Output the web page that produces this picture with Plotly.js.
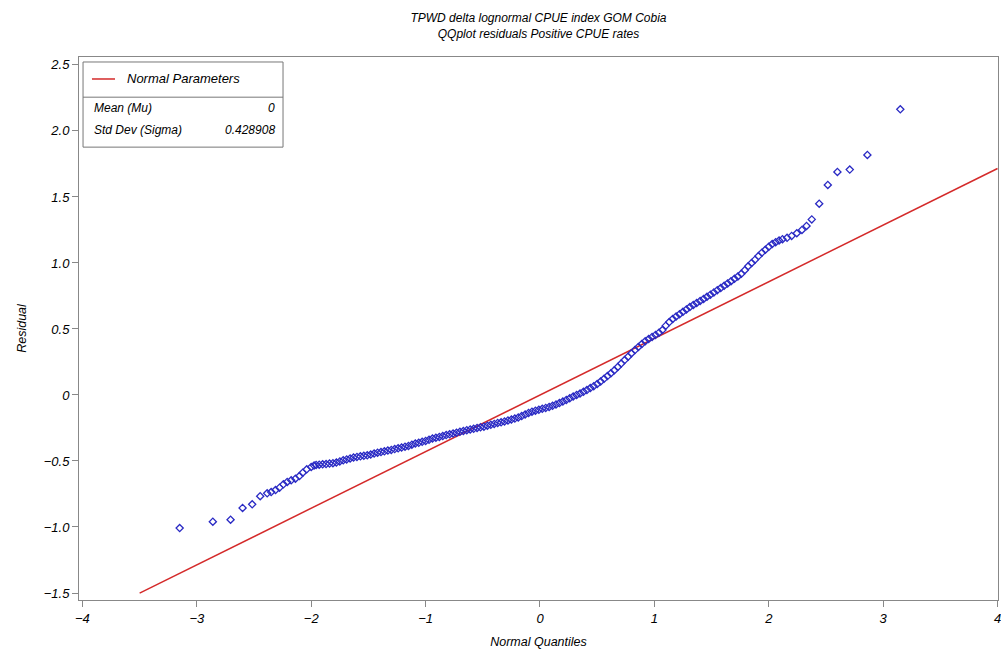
<!DOCTYPE html>
<html>
<head>
<meta charset="utf-8">
<script src="https://cdn.plot.ly/plotly-3.0.1.min.js"></script>
<style>html,body{margin:0;padding:0;background:#fff;}#chart{width:1001px;height:652px;}</style>
</head>
<body>
<div id="chart"></div>
<script>
// ---- Data ----
const titleLines = ["TPWD delta lognormal CPUE index GOM Cobia", "QQplot residuals Positive CPUE rates"];
const xTitle = "Normal Quantiles";
const yTitle = "Residual";
const xTickVals = [-4, -3, -2, -1, 0, 1, 2, 3, 4];
const xTickText = ["\u22124", "\u22123", "\u22122", "\u22121", "0", "1", "2", "3", "4"];
const yTickVals = [2.5, 2.0, 1.5, 1.0, 0.5, 0, -0.5, -1.0, -1.5];
const yTickText = ["2.5", "2.0", "1.5", "1.0", "0.5", "0", "\u22120.5", "\u22121.0", "\u22121.5"];

// Normal parameters (from the inset table)
const mu = 0;
const sigma = 0.428908;
const refLineX = [-3.5, 4];

// Residual QQ points: normal quantiles and residuals
const qx = [
 -3.15, -2.86, -2.705, -2.60, -2.516, -2.446, -2.385, -2.35, -2.312, -2.277,
 -2.243, -2.21, -2.175, -2.138, -2.103, -2.074, -2.039, -2.0, -1.975, -1.957,
 -1.93, -1.90, -1.87, -1.84, -1.81, -1.78, -1.75, -1.72, -1.69, -1.66,
 -1.63, -1.60, -1.57, -1.54, -1.51, -1.48, -1.45, -1.42, -1.39, -1.36,
 -1.33, -1.30, -1.27, -1.24, -1.21, -1.18, -1.15, -1.12, -1.09, -1.06,
 -1.03, -1.00, -0.97, -0.94, -0.91, -0.88, -0.85, -0.82, -0.79, -0.76,
 -0.73, -0.70, -0.67, -0.64, -0.61, -0.58, -0.55, -0.52, -0.49, -0.46,
 -0.43, -0.40, -0.37, -0.34, -0.31, -0.28, -0.25, -0.22, -0.19, -0.16,
 -0.13, -0.10, -0.07, -0.04, -0.01, 0.02, 0.05, 0.08, 0.11, 0.14,
 0.17, 0.20, 0.23, 0.26, 0.29, 0.32, 0.35, 0.38, 0.41, 0.44,
 0.47, 0.50, 0.53, 0.56, 0.59, 0.62, 0.65, 0.68, 0.71, 0.74,
 0.77, 0.80, 0.83, 0.86, 0.89, 0.92, 0.95, 0.98, 1.01, 1.04,
 1.07, 1.10, 1.13, 1.16, 1.19, 1.22, 1.25, 1.28, 1.31, 1.34,
 1.37, 1.40, 1.43, 1.46, 1.49, 1.52, 1.55, 1.58, 1.61, 1.64,
 1.67, 1.70, 1.73, 1.76, 1.79, 1.82, 1.85, 1.88, 1.91, 1.94,
 1.97, 2.00, 2.03, 2.06, 2.09, 2.12, 2.16, 2.20, 2.245, 2.29,
 2.33, 2.376, 2.441, 2.516, 2.600, 2.708, 2.862, 3.150
];
const residual = [
 -1.008, -0.960, -0.945, -0.856, -0.828, -0.767, -0.745, -0.735, -0.720, -0.702,
 -0.677, -0.659, -0.646, -0.634, -0.614, -0.589, -0.563, -0.545, -0.535, -0.530,
 -0.528, -0.525, -0.523, -0.520, -0.517, -0.512, -0.503, -0.495, -0.488, -0.481,
 -0.474, -0.469, -0.465, -0.461, -0.457, -0.451, -0.444, -0.437, -0.432, -0.427,
 -0.421, -0.416, -0.410, -0.404, -0.398, -0.392, -0.386, -0.377, -0.368, -0.362,
 -0.355, -0.348, -0.340, -0.330, -0.324, -0.318, -0.311, -0.304, -0.298, -0.292,
 -0.286, -0.279, -0.273, -0.267, -0.261, -0.256, -0.250, -0.245, -0.240, -0.233,
 -0.226, -0.219, -0.212, -0.207, -0.200, -0.193, -0.186, -0.179, -0.170, -0.160,
 -0.148, -0.136, -0.127, -0.119, -0.112, -0.105, -0.098, -0.091, -0.082, -0.072,
 -0.061, -0.050, -0.038, -0.025, -0.012, 0.000, 0.011, 0.024, 0.037, 0.052,
 0.067, 0.083, 0.102, 0.122, 0.143, 0.164, 0.187, 0.212, 0.238, 0.264,
 0.290, 0.316, 0.340, 0.364, 0.386, 0.407, 0.424, 0.440, 0.455, 0.472,
 0.492, 0.525, 0.552, 0.576, 0.595, 0.612, 0.630, 0.648, 0.666, 0.682,
 0.697, 0.712, 0.727, 0.744, 0.760, 0.777, 0.794, 0.810, 0.827, 0.845,
 0.862, 0.880, 0.898, 0.918, 0.945, 0.975, 1.000, 1.025, 1.052, 1.078,
 1.100, 1.123, 1.143, 1.157, 1.170, 1.180, 1.190, 1.205, 1.225, 1.250,
 1.280, 1.330, 1.449, 1.591, 1.689, 1.707, 1.818, 2.164
];

// ---- Chart ----
const refLineY = refLineX.map(v => mu + sigma * v);
const FONT = "Liberation Sans, Arial, sans-serif";
const ital = (size, color) => ({family: FONT, size: size, color: color || "#000", style: "italic"});

const traces = [
  {
    type: "scatter", mode: "lines", x: refLineX, y: refLineY,
    line: {color: "#d42a2a", width: 1.5}, hoverinfo: "skip", showlegend: false
  },
  {
    type: "scatter", mode: "markers", x: qx, y: residual,
    marker: {symbol: "diamond-open", size: 5.5, color: "#2a2ac4", line: {width: 1.3, color: "#2a2ac4"}},
    showlegend: false
  }
];

// inset box (paper coordinates)
const bx0 = 0.0044, bx1 = 0.222, byTop = 0.9908, byBot = 0.834, bySep = 0.926;

const layout = {
  width: 1001, height: 652,
  paper_bgcolor: "#fff", plot_bgcolor: "#fff",
  margin: {l: 79, r: 3, t: 57, b: 52},
  title: {
    text: titleLines.join("<br>"),
    font: ital(12),
    x: 0.5, xref: "paper", xanchor: "center",
    y: 0.966, yref: "container", yanchor: "middle"
  },
  xaxis: {
    range: [-4.03, 4.004],
    tickvals: xTickVals, ticktext: xTickText,
    ticks: "outside", ticklen: 6, tickcolor: "#888", tickwidth: 1,
    showline: true, linecolor: "#888", linewidth: 1, mirror: true,
    showgrid: false, zeroline: false,
    ticklabeloverflow: "allow",
    tickfont: ital(13),
    title: {text: xTitle, font: ital(12.5), standoff: 12}
  },
  yaxis: {
    range: [-1.553, 2.56],
    tickvals: yTickVals, ticktext: yTickText,
    ticks: "outside", ticklen: 6, tickcolor: "#888", tickwidth: 1,
    showline: true, linecolor: "#888", linewidth: 1, mirror: true,
    showgrid: false, zeroline: false,
    tickfont: ital(13),
    title: {text: yTitle, font: ital(12.5), standoff: 14}
  },
  shapes: [
    {type: "rect", xref: "paper", yref: "paper", x0: bx0, x1: bx1, y0: byBot, y1: byTop,
     line: {color: "#777", width: 1}, fillcolor: "rgba(255,255,255,1)", layer: "above"},
    {type: "line", xref: "paper", yref: "paper", x0: bx0, x1: bx1, y0: bySep, y1: bySep,
     line: {color: "#777", width: 1}},
    {type: "line", xref: "paper", yref: "paper", x0: 0.0141, x1: 0.0392, y0: 0.9595, y1: 0.9595,
     line: {color: "#d42a2a", width: 1.5}}
  ],
  annotations: [
    {xref: "paper", yref: "paper", x: 0.050, y: 0.9595, xanchor: "left", yanchor: "middle",
     text: "Normal Parameters", showarrow: false, font: ital(13)},
    {xref: "paper", yref: "paper", x: 0.0141, y: 0.906, xanchor: "left", yanchor: "middle",
     text: "Mean (Mu)", showarrow: false, font: ital(12)},
    {xref: "paper", yref: "paper", x: 0.2155, y: 0.906, xanchor: "right", yanchor: "middle",
     text: String(mu), showarrow: false, font: ital(12)},
    {xref: "paper", yref: "paper", x: 0.0141, y: 0.8656, xanchor: "left", yanchor: "middle",
     text: "Std Dev (Sigma)", showarrow: false, font: ital(12)},
    {xref: "paper", yref: "paper", x: 0.2155, y: 0.8656, xanchor: "right", yanchor: "middle",
     text: String(sigma), showarrow: false, font: ital(12)}
  ]
};

Plotly.newPlot("chart", traces, layout, {displayModeBar: false, staticPlot: true});
</script>
</body>
</html>
